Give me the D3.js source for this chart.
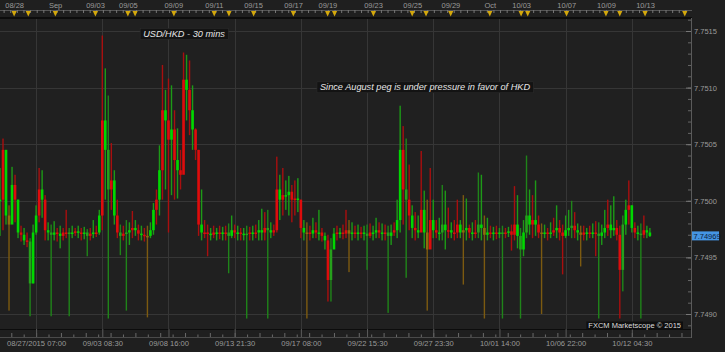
<!DOCTYPE html>
<html>
<head>
<meta charset="utf-8">
<script src="https://cdnjs.cloudflare.com/ajax/libs/d3/7.8.5/d3.min.js"></script>
<style>
body { margin: 0; background: #1f1f1f; }
svg { display: block; font-family: "Liberation Sans", Arial, sans-serif; }
</style>
</head>
<body>
<svg id="canvas" width="725" height="352"></svg>
<script>
// USD/HKD 30 min, each entry groups ~7 raw bars
var highs = [
  7.75029, 7.75055, 7.75045, 7.74996, 7.75030, 7.75023, 7.75001, 7.74978, 7.74976, 7.74972,
  7.74967, 7.74979, 7.74996, 7.75029, 7.75027, 7.75005, 7.74981, 7.74979, 7.74982, 7.74976,
  7.74978, 7.74976, 7.74992, 7.74976, 7.74978, 7.74976, 7.74978, 7.74976, 7.74977, 7.74975,
  7.74976, 7.74983, 7.74978, 7.74992, 7.75146, 7.75117, 7.75093, 7.75051, 7.75027, 7.75001,
  7.74979, 7.74978, 7.74983, 7.74981, 7.74991, 7.74983, 7.74979, 7.74978, 7.74976, 7.74978,
  7.74981, 7.74998, 7.75010, 7.75049, 7.75120, 7.75098, 7.75108, 7.75102, 7.75080, 7.75064,
  7.75045, 7.75131, 7.75129, 7.75124, 7.75102, 7.75064, 7.75045, 7.75010, 7.74983, 7.74979,
  7.74976, 7.74978, 7.74976, 7.74978, 7.74977, 7.74978, 7.74980, 7.74987, 7.74979, 7.74978,
  7.74976, 7.74976, 7.74978, 7.74977, 7.74978, 7.74979, 7.74983, 7.74993, 7.74990, 7.74992,
  7.74981, 7.74979, 7.75039, 7.75023, 7.75029, 7.75018, 7.75022, 7.75014, 7.75018, 7.75020,
  7.75001, 7.74983, 7.74981, 7.74978, 7.74985, 7.74981, 7.74992, 7.74976, 7.74972, 7.74970,
  7.74967, 7.74976, 7.74978, 7.74976, 7.74979, 7.74992, 7.74983, 7.74981, 7.74978, 7.74979,
  7.74977, 7.74978, 7.74979, 7.74980, 7.74978, 7.74985, 7.74981, 7.74980, 7.74979, 7.74978,
  7.74979, 7.74981, 7.75001, 7.75084, 7.75066, 7.75055, 7.75032, 7.74996, 7.74990, 7.74987,
  7.75044, 7.75009, 7.75001, 7.75029, 7.75001, 7.74983, 7.74985, 7.75014, 7.75009, 7.74994,
  7.74981, 7.74983, 7.75001, 7.74983, 7.75005, 7.75002, 7.74979, 7.74981, 7.74983, 7.75025,
  7.75023, 7.74987, 7.74985, 7.74978, 7.74977, 7.74978, 7.74976, 7.74978, 7.74976, 7.74977,
  7.74979, 7.75013, 7.75005, 7.74976, 7.74983, 7.75040, 7.75010, 7.75005, 7.75018, 7.74987,
  7.74980, 7.74979, 7.74976, 7.74981, 7.74985, 7.74996, 7.74983, 7.74979, 7.74987, 7.74992,
  7.75000, 7.74990, 7.74980, 7.74978, 7.74978, 7.74976, 7.74978, 7.74980, 7.74982, 7.74981,
  7.74979, 7.74992, 7.75001, 7.74996, 7.75004, 7.74983, 7.74978, 7.74987, 7.75001, 7.75018,
  7.74996, 7.74981, 7.74978, 7.74980, 7.74987, 7.74978, 7.74976
];
var lows = [
  7.74969, 7.74974, 7.74979, 7.74903, 7.74985, 7.74981, 7.74967, 7.74964, 7.74961, 7.74959,
  7.74898, 7.74927, 7.74970, 7.74981, 7.74985, 7.74965, 7.74965, 7.74898, 7.74965, 7.74964,
  7.74958, 7.74965, 7.74967, 7.74898, 7.74967, 7.74969, 7.74967, 7.74965, 7.74966, 7.74951,
  7.74965, 7.74967, 7.74968, 7.74970, 7.74974, 7.75001, 7.74896, 7.74992, 7.74979, 7.74967,
  7.74952, 7.74965, 7.74903, 7.74961, 7.74967, 7.74969, 7.74965, 7.74965, 7.74964, 7.74897,
  7.74967, 7.74970, 7.74979, 7.74987, 7.75001, 7.75010, 7.74972, 7.75005, 7.75001, 7.75002,
  7.75010, 7.75036, 7.75071, 7.75058, 7.75045, 7.75036, 7.74969, 7.74965, 7.74967, 7.74951,
  7.74965, 7.74967, 7.74965, 7.74966, 7.74965, 7.74965, 7.74936, 7.74967, 7.74967, 7.74965,
  7.74965, 7.74965, 7.74896, 7.74965, 7.74965, 7.74967, 7.74965, 7.74965, 7.74965, 7.74896,
  7.74967, 7.74969, 7.74972, 7.74983, 7.74987, 7.74992, 7.74987, 7.74981, 7.74987, 7.74990,
  7.74967, 7.74965, 7.74896, 7.74965, 7.74967, 7.74967, 7.74965, 7.74964, 7.74957, 7.74911,
  7.74911, 7.74964, 7.74965, 7.74967, 7.74966, 7.74967, 7.74937, 7.74965, 7.74967, 7.74965,
  7.74967, 7.74965, 7.74939, 7.74967, 7.74965, 7.74967, 7.74967, 7.74965, 7.74965, 7.74901,
  7.74961, 7.74969, 7.74967, 7.74972, 7.74979, 7.74932, 7.74974, 7.74967, 7.74965, 7.74967,
  7.74974, 7.74958, 7.74903, 7.74958, 7.74967, 7.74967, 7.74965, 7.74965, 7.74957, 7.74967,
  7.74967, 7.74965, 7.74967, 7.74967, 7.74926, 7.74965, 7.74967, 7.74965, 7.74967, 7.74967,
  7.74965, 7.74896, 7.74965, 7.74967, 7.74965, 7.74966, 7.74967, 7.74896, 7.74967, 7.74968,
  7.74956, 7.74965, 7.74958, 7.74896, 7.74951, 7.74967, 7.74970, 7.74967, 7.74969, 7.74967,
  7.74900, 7.74967, 7.74965, 7.74967, 7.74969, 7.74967, 7.74965, 7.74935, 7.74967, 7.74969,
  7.74967, 7.74967, 7.74965, 7.74942, 7.74965, 7.74965, 7.74967, 7.74967, 7.74951, 7.74896,
  7.74961, 7.74967, 7.74969, 7.74967, 7.74969, 7.74965, 7.74896, 7.74920, 7.74970, 7.74979,
  7.74972, 7.74967, 7.74965, 7.74896, 7.74967, 7.74967, 7.74968
];
var closes = [
  7.75001, 7.75045, 7.74987, 7.74979, 7.75014, 7.75001, 7.74972, 7.74970, 7.74965, 7.74964,
  7.74927, 7.74972, 7.74987, 7.75010, 7.75001, 7.74974, 7.74972, 7.74970, 7.74972, 7.74971,
  7.74969, 7.74972, 7.74972, 7.74971, 7.74972, 7.74973, 7.74972, 7.74971, 7.74972, 7.74969,
  7.74971, 7.74972, 7.74972, 7.74987, 7.75071, 7.75045, 7.75010, 7.75018, 7.74987, 7.74972,
  7.74969, 7.74971, 7.74972, 7.74974, 7.74976, 7.74974, 7.74971, 7.74970, 7.74969, 7.74969,
  7.74974, 7.74992, 7.75001, 7.75027, 7.75080, 7.75071, 7.75054, 7.75063, 7.75036, 7.75027,
  7.75023, 7.75107, 7.75098, 7.75080, 7.75063, 7.75045, 7.74979, 7.74972, 7.74972, 7.74971,
  7.74970, 7.74972, 7.74971, 7.74972, 7.74971, 7.74972, 7.74969, 7.74974, 7.74972, 7.74972,
  7.74971, 7.74971, 7.74971, 7.74972, 7.74971, 7.74972, 7.74974, 7.74972, 7.74976, 7.74974,
  7.74972, 7.74974, 7.75010, 7.75001, 7.75005, 7.75005, 7.75008, 7.75001, 7.75002, 7.75001,
  7.74976, 7.74972, 7.74972, 7.74971, 7.74974, 7.74972, 7.74972, 7.74969, 7.74965, 7.74930,
  7.74957, 7.74971, 7.74972, 7.74972, 7.74971, 7.74974, 7.74971, 7.74972, 7.74972, 7.74971,
  7.74972, 7.74971, 7.74969, 7.74972, 7.74972, 7.74974, 7.74972, 7.74971, 7.74972, 7.74969,
  7.74972, 7.74974, 7.74983, 7.75045, 7.75010, 7.75001, 7.74987, 7.74976, 7.74974, 7.74972,
  7.74992, 7.74972, 7.74957, 7.74983, 7.74974, 7.74972, 7.74972, 7.74979, 7.74974, 7.74974,
  7.74972, 7.74972, 7.74979, 7.74972, 7.74974, 7.74976, 7.74972, 7.74972, 7.74972, 7.74979,
  7.74976, 7.74970, 7.74972, 7.74972, 7.74971, 7.74972, 7.74972, 7.74971, 7.74972, 7.74973,
  7.74970, 7.74979, 7.74969, 7.74957, 7.74972, 7.74987, 7.74979, 7.74983, 7.74979, 7.74972,
  7.74971, 7.74972, 7.74971, 7.74972, 7.74974, 7.74976, 7.74972, 7.74969, 7.74974, 7.74976,
  7.74978, 7.74974, 7.74972, 7.74970, 7.74972, 7.74971, 7.74972, 7.74972, 7.74971, 7.74969,
  7.74972, 7.74976, 7.74979, 7.74974, 7.74976, 7.74970, 7.74939, 7.74979, 7.74992, 7.74996,
  7.74976, 7.74972, 7.74971, 7.74970, 7.74974, 7.74972, 7.74969
];
// G up, R down, D dark green, O olive (thin spikes)
var tones = "GRGOGRGRGR" + "DGGRGRGDGR" + "GRRDGRGRGD" + "RGRGRGDRGR" + "DRDGRGRGRO" +
            "GGRGRGRGRG" + "RRGRGRRGRR" + "GRGRGRDGRG" + "RGDRGRGGRD" + "GRRGRGGRRG" +
            "RGORGRGRGR" + "DGRGRROGRG" + "RGDRGGRGRD" + "GRGGRDRGRG" + "RGORGRGDGR" +
            "GRRGOGRGRD" + "GOGRGRGDRG" + "RRGDGDGRGR" + "OGRGRGRRGG" + "DRGORGRGRD" +
            "GGRGGRRDGR" + "GRGDRGG";

var bottomLabels = ["08/27/2015 07:00", "09/03 08:30", "09/08 16:00", "09/13 21:30", "09/17 08:00",
                    "09/22 15:30", "09/27 23:30", "10/01 14:00", "10/06 22:00", "10/12 04:30"];
var bottomLabelBars = [12, 34, 56, 78, 100, 122, 144, 166, 188, 210];
var topLabels = ["08/28", "Sep", "09/03", "09/05", "09/09", "09/11", "09/15", "09/17", "09/19",
                 "09/23", "09/25", "09/29", "Oct", "10/03", "10/07", "10/09", "10/13"];
var topLabelBars = [4.7, 18.3, 31.6, 42.5, 57.6, 71.1, 84.1, 97.4, 108.8,
                    124.0, 137.0, 149.7, 162.8, 173.2, 188.2, 201.4, 214.4];
var eventBars = [4.7, 9.4, 18.4, 31.7, 42.5, 44.9, 57.8, 71.2, 76.1, 84.3, 97.5, 108.9, 111.2,
                 124.1, 137.0, 141.6, 149.8, 162.8, 173.2, 175.4, 188.3, 201.4, 206.0, 214.4, 227.6];
var priceTicks = [7.7490, 7.7495, 7.7500, 7.7505, 7.7510, 7.7515];
var lastPrice = 7.74969;

var svg = d3.select("#canvas");
var plotTop = 18, plotBottom = 329, plotRight = 691;

var x = d3.scaleLinear().domain([0, 230]).range([0, 692]);
var y = d3.scaleLinear().domain([7.7490, 7.7515]).range([314, 31]);

var palette = {
  G: {body: "#00d800", wick: "#1d9a17"},
  R: {body: "#de0c0c", wick: "#a80f0f"},
  D: {body: "#26a01c", wick: "#1f8419"},
  O: {body: "#8f6b0e", wick: "#7c5a10"}
};

// plot background
svg.append("rect").attr("x", 0).attr("y", plotTop).attr("width", plotRight).attr("height", plotBottom - plotTop)
   .attr("fill", "#202020");

// grid
svg.append("g").selectAll("line").data(priceTicks).join("line")
   .attr("x1", 0).attr("x2", plotRight).attr("y1", d => Math.round(y(d)) + 0.5).attr("y2", d => Math.round(y(d)) + 0.5)
   .attr("stroke", "#363636");
svg.append("g").selectAll("line").data(bottomLabelBars).join("line")
   .attr("x1", d => Math.round(x(d)) + 0.5).attr("x2", d => Math.round(x(d)) + 0.5)
   .attr("y1", plotTop).attr("y2", plotBottom)
   .attr("stroke", "#363636");

// bars
var bars = highs.map((h, i) => ({
  i: i, high: h, low: lows[i], close: closes[i],
  open: i > 0 ? closes[i - 1] : closes[i], tone: tones[i]
}));
var barG = svg.append("g");
barG.selectAll("rect.wick").data(bars).join("rect").attr("class", "wick")
   .attr("x", d => x(d.i) - 0.7)
   .attr("width", 1.4)
   .attr("y", d => y(d.high))
   .attr("height", d => Math.max(1, y(d.low) - y(d.high)))
   .attr("fill", d => palette[d.tone].wick);
barG.selectAll("rect.body").data(bars).join("rect").attr("class", "body")
   .attr("x", d => x(d.i) - 1.3)
   .attr("width", 2.6)
   .attr("y", d => y(Math.max(d.open, d.close)))
   .attr("height", d => Math.max(1.5, Math.abs(y(d.open) - y(d.close))))
   .attr("fill", d => palette[d.tone].body);

// top strip
svg.append("line").attr("x1", 0).attr("x2", 692).attr("y1", 10.5).attr("y2", 10.5).attr("stroke", "#555");
svg.append("line").attr("x1", 0).attr("x2", 692).attr("y1", 18).attr("y2", 18).attr("stroke", "#0c0c0c").attr("stroke-width", 2);
var topMinor = svg.append("g").attr("transform", "translate(0,10)")
   .call(d3.axisBottom(x).tickValues(d3.range(1.2, 230, 2.2)).tickSize(3).tickFormat(""));
topMinor.select(".domain").remove();
topMinor.selectAll("line").attr("stroke", "#777");
var topAxis = svg.append("g").attr("transform", "translate(0,10)")
   .call(d3.axisTop(x).tickValues(topLabelBars).tickSize(0).tickPadding(2)
   .tickFormat((d, i) => topLabels[i]));
topAxis.select(".domain").remove();
topAxis.selectAll("text").attr("fill", "#9a9a9a").style("font-size", "7.5px").style("font-family", "Liberation Sans, Arial");
svg.append("g").selectAll("path").data(eventBars).join("path")
   .attr("transform", d => "translate(" + x(d) + ",11)")
   .attr("d", "M-2.6,0L2.6,0L0,5.5Z")
   .attr("fill", "#d4a80c");

// bottom axis
svg.append("line").attr("x1", 0).attr("x2", 692).attr("y1", 329.5).attr("y2", 329.5).attr("stroke", "#0c0c0c");
svg.append("line").attr("x1", 0).attr("x2", 692).attr("y1", 337.5).attr("y2", 337.5).attr("stroke", "#4a4a4a");
var minorBars = d3.range(0, 230, 33 / 8).map(d => d + 12 - 33 / 8 * 3);
var botMinor = svg.append("g").attr("transform", "translate(0,337)")
   .call(d3.axisBottom(x).tickValues(minorBars).tickSize(-3).tickFormat(""));
botMinor.select(".domain").remove();
botMinor.selectAll("line").attr("stroke", "#6a6a6a")
   .attr("y2", (d, i) => i % 2 ? -4 : -2.5);
var botAxis = svg.append("g").attr("transform", "translate(0,337)")
   .call(d3.axisBottom(x).tickValues(bottomLabelBars).tickSize(-8).tickPadding(4)
   .tickFormat((d, i) => bottomLabels[i]));
botAxis.select(".domain").remove();
botAxis.selectAll("line").attr("stroke", "#5c5c5c");
botAxis.selectAll("text").attr("fill", "#9a9a9a").style("font-size", "7.6px").style("font-family", "Liberation Sans, Arial")
   .each(function(d) {
     var w = this.getComputedTextLength();
     var px = x(d);
     if (px - w / 2 < 0) d3.select(this).attr("x", w / 2 - px);
   });

// right axis
svg.append("line").attr("x1", plotRight + 0.5).attr("x2", plotRight + 0.5).attr("y1", 18).attr("y2", 338)
   .attr("stroke", "#5a5a5a");
var minorPrices = d3.range(7.7489, 7.75165, 0.0001);
var rMinor = svg.append("g").attr("transform", "translate(" + plotRight + ",0)")
   .call(d3.axisRight(y).tickValues(minorPrices).tickSize(-3).tickFormat(""));
rMinor.select(".domain").remove();
rMinor.selectAll("line").attr("stroke", "#666");
var rAxis = svg.append("g").attr("transform", "translate(" + plotRight + ",0)")
   .call(d3.axisRight(y).tickValues(priceTicks).tickSizeInner(-5).tickSizeOuter(0).tickPadding(3)
   .tickFormat(d3.format(".4f")));
rAxis.select(".domain").remove();
rAxis.selectAll("line").attr("stroke", "#777");
rAxis.selectAll("text").attr("fill", "#9a9a9a").style("font-size", "7.5px").style("font-family", "Liberation Sans, Arial");

// last price tag
var lp = svg.append("g").attr("transform", "translate(692," + y(lastPrice) + ")");
lp.append("rect").attr("x", 0).attr("y", -4.5).attr("width", 27).attr("height", 9).attr("fill", "#4595e4");
lp.append("text").attr("x", 1.5).attr("y", 3).text(d3.format(".5f")(lastPrice))
  .attr("fill", "#0d1d3a").style("font-size", "7.5px");

// annotations
function note(cx, cy, txt, size, italic) {
  var g = svg.append("g");
  var t = g.append("text").attr("x", cx).attr("y", cy).attr("text-anchor", "middle")
    .attr("fill", "#e6e6e6").style("font-size", size + "px")
    .style("font-style", italic ? "italic" : "normal").text(txt);
  var b = t.node().getBBox();
  g.insert("rect", "text").attr("x", b.x - 3).attr("y", b.y - 0.5).attr("width", b.width + 6).attr("height", b.height + 1)
    .attr("fill", "#131313").attr("stroke", "#2c2c2c").attr("stroke-width", 0.6);
}
note(184, 36.8, "USD/HKD - 30 mins", 9.2, true);
note(425, 90.3, "Since August peg is under pressure in favor of HKD", 9.2, true);

var wm = svg.append("g");
var wt = wm.append("text").attr("x", 681).attr("y", 328.3).attr("text-anchor", "end")
   .attr("fill", "#dcdcdc").style("font-size", "7.5px").text("FXCM Marketscope \u00a9 2015");
var wb = wt.node().getBBox();
wm.insert("rect", "text").attr("x", wb.x - 2).attr("y", 321.5).attr("width", wb.width + 4).attr("height", 8)
   .attr("fill", "#0e0e0e");
</script>
</body>
</html>
